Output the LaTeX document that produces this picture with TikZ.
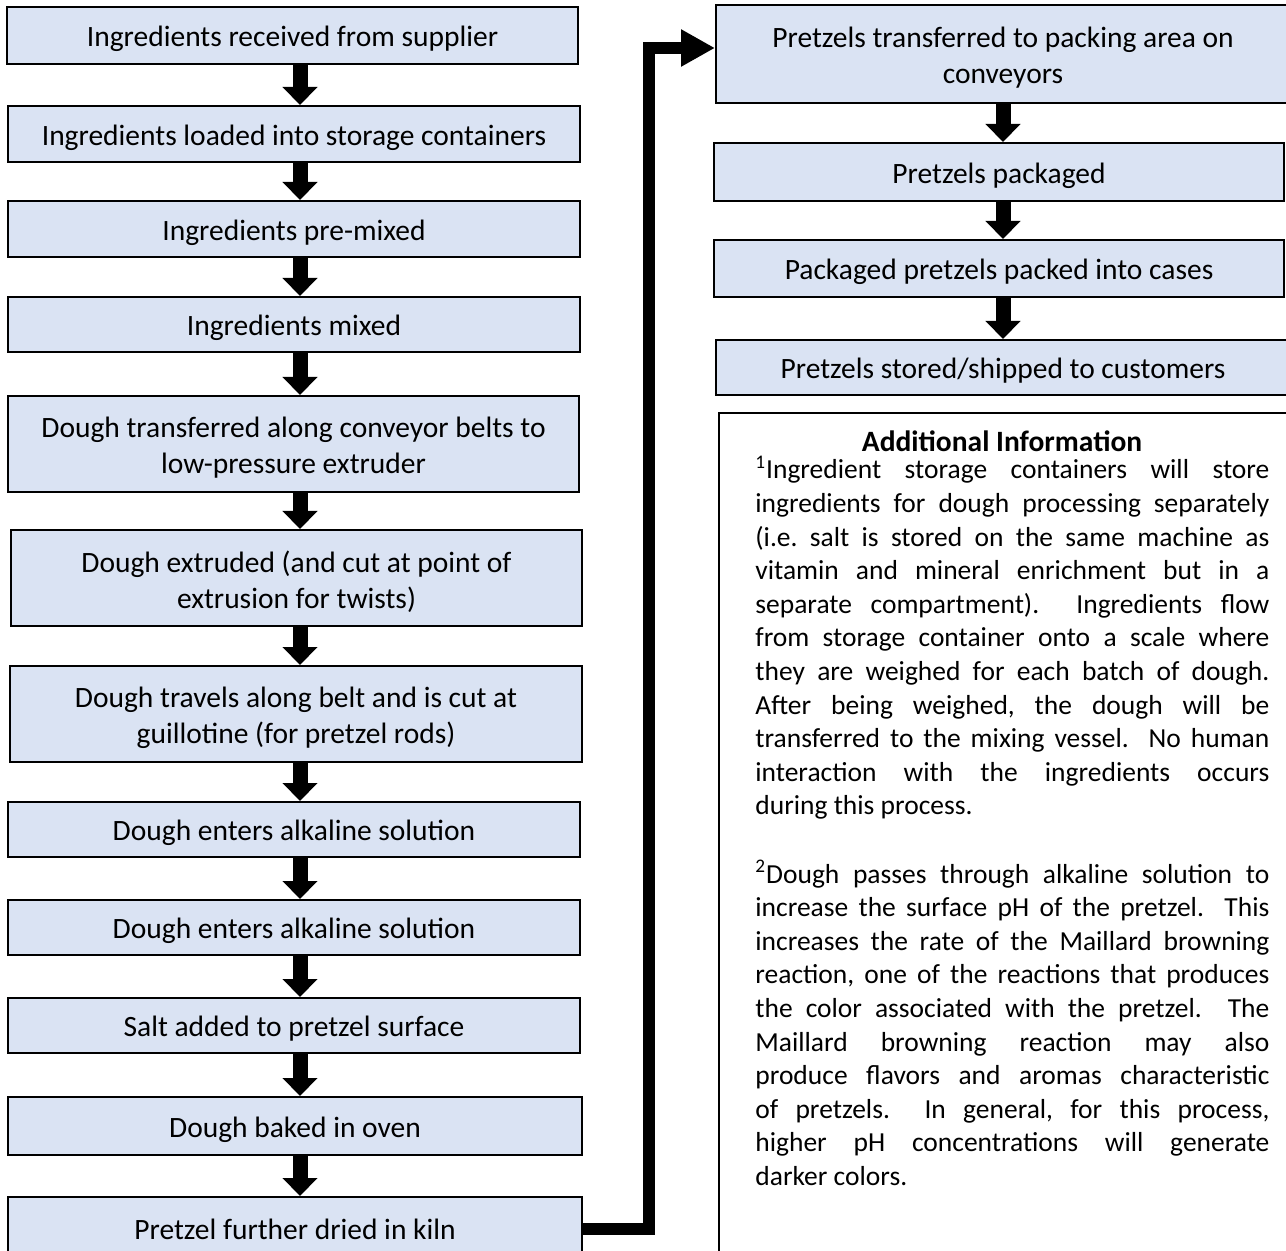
\documentclass[tikz,border=0pt]{standalone}
\usepackage{fontspec}
\setmainfont{Carlito}
\usetikzlibrary{arrows.meta}
\definecolor{boxblue}{HTML}{DAE3F3}
\newcommand\bxfont{\fontsize{14.75pt}{18pt}\selectfont}
\newcommand\infofont{\fontsize{13.75pt}{16.8pt}\selectfont\frenchspacing\hyphenpenalty=10000\exhyphenpenalty=10000\tolerance=10000}
% box node with its text node, text set a little below the centre
\newcommand\flowbox[6]{%
  \node[box, minimum width=#4, minimum height=#5] (#1) at (#2,#3) {};
  \node[boxtext] (#1t) at ([yshift=-1.75pt]#1.center) {#6};}
\begin{document}
\begin{tikzpicture}[x=0.5pt,y=-0.5pt,
  box/.style={draw=black, line width=1pt, fill=boxblue, inner sep=0pt},
  boxtext/.style={inner sep=0pt, align=center, font=\bxfont},
  flowarrow/.style={line width=7.5pt, -{Triangle[width=17pt,length=9pt]}},
  bigarrow/.style={line width=6pt, line join=miter, -{Triangle[width=17.5pt,length=17pt]}},
  para/.style={anchor=base west, text width=257pt, inner sep=0pt, align=justify, font=\infofont}
  ]
\useasboundingbox (0,0) rectangle (1286,1251);

% left column
\flowbox{b1}{292.5}{35.5}{285.5pt}{28.5pt}{Ingredients received from supplier}
\flowbox{b2}{294}{134}{286pt}{28pt}{Ingredients loaded into storage containers}
\flowbox{b3}{294}{229}{286pt}{28pt}{Ingredients pre-mixed}
\flowbox{b4}{294}{324.5}{286pt}{27.5pt}{Ingredients mixed}
\flowbox{b5}{293.5}{444}{285.5pt}{48pt}{Dough transferred along conveyor belts to\\low-pressure extruder}
\flowbox{b6}{296.5}{578}{285.5pt}{48pt}{Dough extruded (and cut at point of\\extrusion for twists)}
\flowbox{b7}{296}{714}{286pt}{48pt}{Dough travels along belt and is cut at\\guillotine (for pretzel rods)}
\flowbox{b8}{294}{829.5}{286pt}{27.5pt}{Dough enters alkaline solution}
\flowbox{b9}{294}{927.5}{286pt}{27.5pt}{Dough enters alkaline solution}
\flowbox{b10}{294}{1025.5}{286pt}{27.5pt}{Salt added to pretzel surface}
\flowbox{b11}{295}{1126}{287pt}{29pt}{Dough baked in oven}
\flowbox{b12}{295}{1225.5}{287pt}{28.5pt}{Pretzel further dried in kiln}

% right column
\flowbox{r1}{1003}{54}{287pt}{49pt}{Pretzels transferred to packing area on\\conveyors}
\flowbox{r2}{999}{172}{285pt}{29pt}{Pretzels packaged}
\flowbox{r3}{999}{268.5}{285pt}{28.5pt}{Packaged pretzels packed into cases}
\flowbox{r4}{1003}{367.5}{287pt}{27.5pt}{Pretzels stored/shipped to customers}

% information box
\node[draw=black, line width=1pt, anchor=north west, inner sep=0pt, minimum width=287pt, minimum height=425pt] (info) at (718,412) {};
\node[font=\bxfont\bfseries, inner sep=0pt] (title) at (1002,441) {Additional Information};
\node[para] (p1) at (755,479) {\textsuperscript{1}Ingredient storage containers will store\linebreak
ingredients for dough processing separately\linebreak
(i.e. salt is stored on the same machine as\linebreak
vitamin and mineral enrichment but in a\linebreak
separate compartment).\ \ Ingredients flow\linebreak
from storage container onto a scale where\linebreak
they are weighed for each batch of dough.\linebreak
After being weighed, the dough will be\linebreak
transferred to the mixing vessel.\ \ No human\linebreak
interaction with the ingredients occurs\linebreak
during this process.};
\node[para] (p2) at (755,883) {\textsuperscript{2}Dough passes through alkaline solution to\linebreak
increase the surface pH of the pretzel.\ \ This\linebreak
increases the rate of the Maillard browning\linebreak
reaction, one of the reactions that produces\linebreak
the color associated with the pretzel.\ \ The\linebreak
Maillard browning reaction may also\linebreak
produce flavors and aromas characteristic\linebreak
of pretzels.\ \ In general, for this process,\linebreak
higher pH concentrations will generate\linebreak
darker colors.};

% arrows
\coordinate (lx) at (300,0);
\coordinate (rx) at (1003,0);
\foreach \a/\b in {b1/b2,b2/b3,b3/b4,b4/b5,b5/b6,b6/b7,b7/b8,b8/b9,b9/b10,b10/b11,b11/b12}
  \draw[flowarrow] (\a.south -| lx) -- (\b.north -| lx);
\foreach \a/\b in {r1/r2,r2/r3,r3/r4}
  \draw[flowarrow] (\a.south -| rx) -- (\b.north -| rx);

\coordinate (c1) at (649,1229);
\coordinate (c2) at (649,48);
\draw[bigarrow] ([yshift=-1.75pt]b12.east) -- (c1) -- (c2) -- ([yshift=3pt]r1.west);
\end{tikzpicture}
\end{document}
